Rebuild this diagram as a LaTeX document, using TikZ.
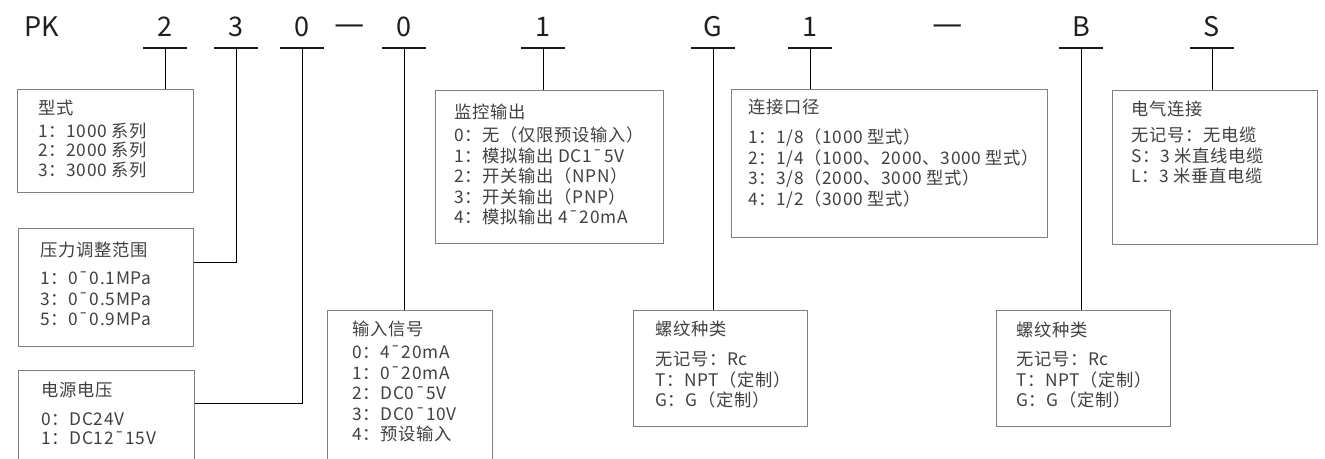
\documentclass[tikz,border=0pt]{standalone}
\usepackage{fontspec}
\setmainfont{Noto Sans CJK SC}
\newfontfamily\notefont[LetterSpace=4]{Noto Sans CJK SC}
\usetikzlibrary{positioning,calc}
\tikzset{
  box/.style={draw=black!50, line width=0.9pt, anchor=north west, inner sep=0pt},
  note/.style={anchor=north west, align=left, inner sep=0pt, text=black!75,
    font=\notefont\fontsize{17.3}{20.5}\selectfont},
  code/.style={anchor=base, inner sep=0pt, text=black!88, font=\fontsize{27}{30}\selectfont},
  uline/.style={line width=2.2pt, black!90},
  link/.style={line width=0.9pt, black},
}
\begin{document}
\begin{tikzpicture}[x=1pt, y=-1pt]
\clip (0,0) rectangle (1325,458);
% model code
\node[code, anchor=base west] (pk) at (24,36) {PK};
\foreach \n/\x/\t in {a/165/2, b/236/3, c/302/0, d/404/0, e/543/1, f/713/G, g/810/1, h/1081/B, i/1212/S}{
  \node[code] (k\n) at (\x,36) {\t};
  \coordinate (u\n) at (\x,48);
  \draw[uline] ($(u\n)+(-22,0)$) -- ($(u\n)+(22,0)$);
}
\node[code, font=\fontsize{34}{36}\selectfont] (dasha) at (350,35) {—};
\node[code, font=\fontsize{34}{36}\selectfont] (dashb) at (948,35) {—};
% boxes
\node[box, minimum width=176, minimum height=103] (b1) at (17,89) {};
\node[box, minimum width=175, minimum height=118] (b2) at (18,228) {};
\node[box, minimum width=176, minimum height=120] (b3) at (18,370) {};
\node[box, minimum width=165, minimum height=170] (b4) at (327,310) {};
\node[box, minimum width=228, minimum height=153] (b5) at (435,90) {};
\node[box, minimum width=174, minimum height=116] (b6) at (633,310) {};
\node[box, minimum width=316, minimum height=148] (b7) at (731,89) {};
\node[box, minimum width=174, minimum height=116] (b8) at (996,310) {};
\node[box, minimum width=205, minimum height=154] (b9) at (1112,90) {};
% texts
\node[note, font=\notefont\fontsize{17.3}{19.5}\selectfont] (t1) at ([shift={(21,10.5)}]b1.north west)
  {型式\\[3.5pt]1：1000 系列\\2：2000 系列\\3：3000 系列};
\node[note] (t2) at ([shift={(22,14)}]b2.north west)
  {压力调整范围\\[7.5pt]1：0¯0.1MPa\\3：0¯0.5MPa\\5：0¯0.9MPa};
\node[note, font=\notefont\fontsize{17.3}{19}\selectfont] (t3) at ([shift={(23,12)}]b3.north west)
  {电源电压\\[10pt]0：DC24V\\1：DC12¯15V};
\node[note] (t4) at ([shift={(25,11)}]b4.north west)
  {输入信号\\[2.5pt]0：4¯20mA\\1：0¯20mA\\2：DC0¯5V\\3：DC0¯10V\\4：预设输入};
\node[note] (t5) at ([shift={(19,14)}]b5.north west)
  {监控输出\\[2.5pt]0：无（仅限预设输入）\\1：模拟输出 DC1¯5V\\2：开关输出（NPN）\\3：开关输出（PNP）\\4：模拟输出 4¯20mA};
\node[note] (t6) at ([shift={(22,11)}]b6.north west)
  {螺纹种类\\[9.5pt]无记号：Rc\\T：NPT（定制）\\G：G（定制）};
\node[note] (t7) at ([shift={(17,10)}]b7.north west)
  {连接口径\\[9.5pt]1：1/8（1000 型式）\\2：1/4（1000、2000、3000 型式）\\3：3/8（2000、3000 型式）\\4：1/2（3000 型式）};
\node[note] (t8) at ([shift={(20,12)}]b8.north west)
  {螺纹种类\\[8.5pt]无记号：Rc\\T：NPT（定制）\\G：G（定制）};
\node[note] (t9) at ([shift={(19,11)}]b9.north west)
  {电气连接\\[5.5pt]无记号：无电缆\\S：3 米直线电缆\\L：3 米垂直电缆};
% connectors
\coordinate (b2c) at ([shift={(0,34)}]b2.north east);
\coordinate (b3c) at ([shift={(0,33)}]b3.north east);
\draw[link] (ua) -- (ua |- b1.north);
\draw[link] (ub) -- (ub |- b2c) -- (b2c);
\draw[link] (uc) -- (uc |- b3c) -- (b3c);
\draw[link] (ud) -- (ud |- b4.north);
\draw[link] (ue) -- (ue |- b5.north);
\draw[link] (uf) -- (uf |- b6.north);
\draw[link] (ug) -- (ug |- b7.north);
\draw[link] (uh) -- (uh |- b8.north);
\draw[link] (ui) -- (ui |- b9.north);
\end{tikzpicture}
\end{document}
